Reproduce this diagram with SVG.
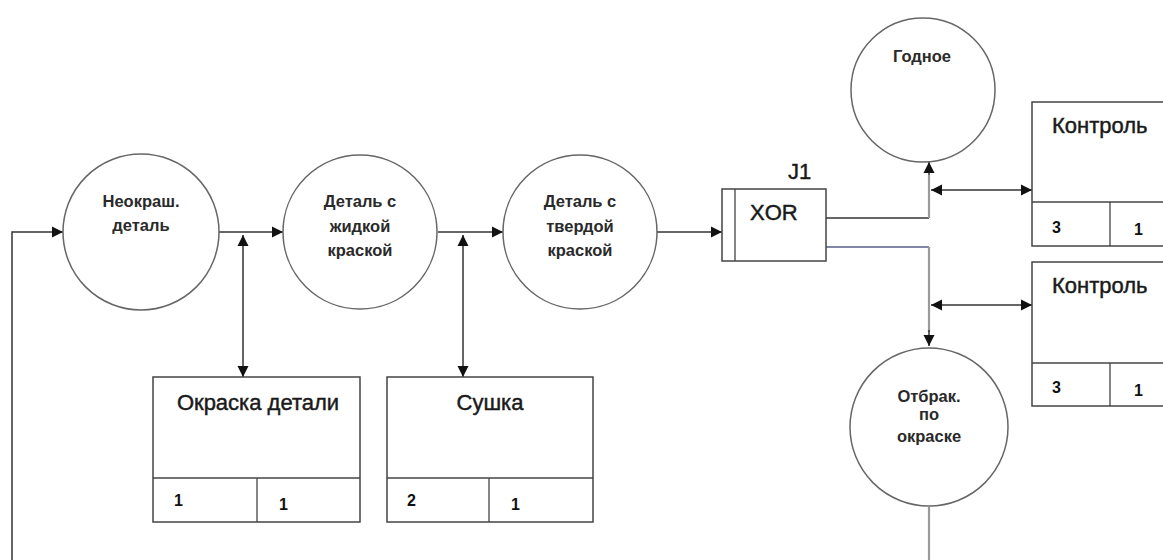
<svg xmlns="http://www.w3.org/2000/svg" width="1163" height="560" viewBox="0 0 1163 560">
  <defs>
    <marker id="arr" markerUnits="userSpaceOnUse" markerWidth="12" markerHeight="12" refX="11" refY="6" orient="auto-start-reverse">
      <path d="M0,0.5 L11,6 L0,11.5 z" fill="#111"/>
    </marker>
    <style>
      .circ { fill: #fff; stroke: #666; stroke-width: 1.5; }
      .box { fill: #fff; stroke: #444; stroke-width: 1.5; }
      .sep { stroke: #444; stroke-width: 1.3; fill: none; }
      .ln { stroke: #333; stroke-width: 1.5; fill: none; }
      .gry { stroke: #9a9a9a; stroke-width: 2.2; fill: none; }
      .blu { stroke: #5a5c8c; stroke-width: 1.5; fill: none; }
      .ct { font-family: "Liberation Sans", Arial, sans-serif; font-weight: bold; font-size: 16.5px; fill: #2a2a2a; text-anchor: middle; }
      .tt { font-family: "Liberation Sans", Arial, sans-serif; font-size: 22px; fill: #1a1a1a; stroke: #1a1a1a; stroke-width: 0.45; }
      .nm { font-family: "Liberation Sans", Arial, sans-serif; font-weight: bold; font-size: 16px; fill: #111; }
    </style>
  </defs>
  <rect width="1163" height="560" fill="#fff"/>

  <g id="connectors">
    <!-- feedback loop into the first state -->
    <polyline class="ln" points="12,560 12,232 63,232" marker-end="url(#arr)"/>
    <line class="ln" x1="219" y1="232" x2="283" y2="232" marker-end="url(#arr)"/>
    <line class="ln" x1="243" y1="235" x2="243" y2="377" marker-start="url(#arr)" marker-end="url(#arr)"/>
    <line class="ln" x1="438" y1="232" x2="503" y2="232" marker-end="url(#arr)"/>
    <line class="ln" x1="463" y1="235" x2="463" y2="377" marker-start="url(#arr)" marker-end="url(#arr)"/>
    <line class="ln" x1="657" y1="232" x2="722" y2="232" marker-end="url(#arr)"/>
    <!-- XOR outputs -->
    <polyline class="ln" points="826,218 929,218"/>
    <line class="gry" x1="929" y1="218" x2="929" y2="175"/>
    <line class="ln" x1="929" y1="175" x2="929" y2="162" marker-end="url(#arr)"/>
    <line class="ln" x1="931" y1="190" x2="1032" y2="190" marker-start="url(#arr)" marker-end="url(#arr)"/>
    <polyline class="blu" points="826,247 929,247"/>
    <line class="gry" x1="929" y1="247" x2="929" y2="332"/>
    <line class="ln" x1="929" y1="330" x2="929" y2="346" marker-end="url(#arr)"/>
    <line class="ln" x1="931" y1="305" x2="1032" y2="305" marker-start="url(#arr)" marker-end="url(#arr)"/>
    <line class="gry" x1="929" y1="507" x2="929" y2="560"/>
  </g>

  <g id="state-unpainted">
    <circle class="circ" cx="141" cy="232" r="78"/>
    <text class="ct" x="141" y="207">Неокраш.</text>
    <text class="ct" x="141" y="231">деталь</text>
  </g>

  <g id="state-wet">
    <circle class="circ" cx="360" cy="232" r="77"/>
    <text class="ct" x="360" y="207">Деталь с</text>
    <text class="ct" x="360" y="232">жидкой</text>
    <text class="ct" x="360" y="256">краской</text>
  </g>

  <g id="state-dry">
    <circle class="circ" cx="580" cy="232" r="77"/>
    <text class="ct" x="580" y="207">Деталь с</text>
    <text class="ct" x="580" y="232">твердой</text>
    <text class="ct" x="580" y="256">краской</text>
  </g>

  <g id="junction-j1">
    <rect class="box" x="722" y="189" width="104" height="72"/>
    <line class="sep" x1="735" y1="189" x2="735" y2="261"/>
    <text class="tt" x="750" y="220">XOR</text>
    <text class="tt" x="788" y="179">J1</text>
  </g>

  <g id="state-good">
    <circle class="circ" cx="923" cy="90" r="72"/>
    <text class="ct" x="922" y="62">Годное</text>
  </g>

  <g id="state-reject">
    <circle class="circ" cx="929" cy="427" r="79"/>
    <text class="ct" x="929" y="402">Отбрак.</text>
    <text class="ct" x="929" y="420">по</text>
    <text class="ct" x="929" y="442">окраске</text>
  </g>

  <g id="uob-painting">
    <rect class="box" x="153" y="377" width="207" height="145"/>
    <line class="sep" x1="153" y1="478" x2="360" y2="478"/>
    <line class="sep" x1="257" y1="478" x2="257" y2="522"/>
    <text class="tt" x="258" y="410" text-anchor="middle">Окраска детали</text>
    <text class="nm" x="174" y="506">1</text>
    <text class="nm" x="279" y="510">1</text>
  </g>

  <g id="uob-drying">
    <rect class="box" x="387" y="377" width="206" height="145"/>
    <line class="sep" x1="387" y1="478" x2="593" y2="478"/>
    <line class="sep" x1="489" y1="478" x2="489" y2="522"/>
    <text class="tt" x="490" y="410" text-anchor="middle">Сушка</text>
    <text class="nm" x="407" y="506">2</text>
    <text class="nm" x="511" y="510">1</text>
  </g>

  <g id="uob-control-1">
    <rect class="box" x="1032" y="102" width="140" height="144"/>
    <line class="sep" x1="1032" y1="202" x2="1163" y2="202"/>
    <line class="sep" x1="1110" y1="202" x2="1110" y2="246"/>
    <text class="tt" x="1052" y="133">Контроль</text>
    <text class="nm" x="1052" y="233">3</text>
    <text class="nm" x="1134" y="235">1</text>
  </g>

  <g id="uob-control-2">
    <rect class="box" x="1032" y="262" width="140" height="144"/>
    <line class="sep" x1="1032" y1="363" x2="1163" y2="363"/>
    <line class="sep" x1="1110" y1="363" x2="1110" y2="406"/>
    <text class="tt" x="1052" y="293">Контроль</text>
    <text class="nm" x="1052" y="393">3</text>
    <text class="nm" x="1134" y="396">1</text>
  </g>
</svg>
